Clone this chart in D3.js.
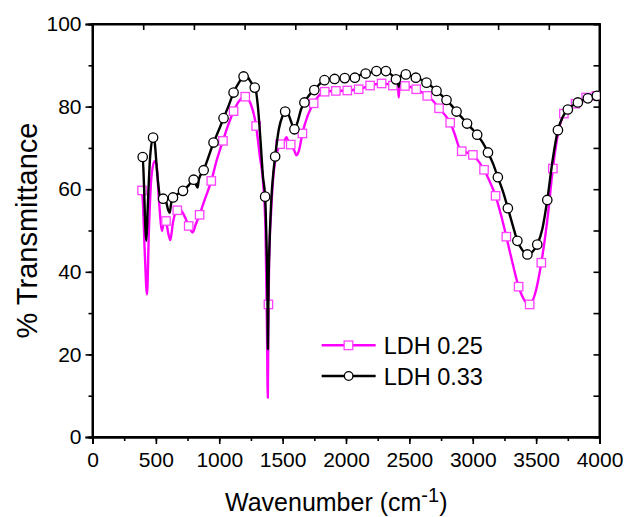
<!DOCTYPE html>
<html>
<head>
<meta charset="utf-8">
<script src="https://cdn.jsdelivr.net/npm/d3@7"></script>
<style>
  body { margin: 0; background: #fff; }
  text { font-family: "Liberation Sans", Arial, sans-serif; fill: #000; }
</style>
</head>
<body>
<svg id="drawing_region"></svg>
<script>
// LDH 0.25 (magenta) - spectrum trace [wavenumber, %T]
const ldh025_wn = [385,395,412,430,445,465,490,505,525,549,565,580,600,614,635,669,700,719,740,759,790,815,845,880,937,980,1029,1070,1113,1160,1205,1250,1291,1320,1345,1365,1377,1383,1387,1393,1410,1428,1445,1467,1480,1510,1530,1548,1564,1590,1611,1630,1656,1700,1745,1790,1832,1920,2010,2100,2190,2281,2340,2370,2400,2410,2416,2422,2465,2554,2641,2690,2734,2780,2822,2858,2890,2913,2960,3001,3045,3089,3135,3180,3225,3265,3315,3362,3410,3449,3490,3541,3590,3632,3670,3719,3760,3811,3895,3975,4000];
const ldh025_t  = [59.5,58,45,34.5,50,63,66.8,66,57,49.9,53,52.3,49,47.7,52,54.9,54.8,53.9,52.5,51.1,49.5,51.5,53.8,57,62,67,71.7,75.5,78.9,81.5,82.4,80.5,75.3,68,62,50,25,9.5,25,42,55,63.5,67.5,70,70.9,71.5,72.6,71.3,70.8,69.5,68.2,69.5,73.5,78,80.8,82.8,83.6,83.8,83.9,84.2,85.1,85.6,85.4,85.1,84.8,84.6,82.2,84.8,85,84.2,82.6,81.3,79.6,78,76.1,73.3,70.3,69.2,68.8,68.3,66.8,64.7,61.8,58.4,53.5,48.5,42,36.4,33,32.1,34.5,42.2,53,65,73,78.3,79.8,80.7,82.2,82.6,82.7];
// LDH 0.25 square markers
const ldh025_mk_wn = [391,580,669,759,845,937,1029,1113,1205,1291,1388,1480,1564,1656,1745,1832,1920,2010,2100,2190,2281,2370,2465,2554,2641,2734,2822,2913,3001,3089,3180,3265,3362,3449,3541,3632,3719,3811,3895,3975];
const ldh025_mk_t  = [59.7,52.3,54.9,51.1,53.8,62,71.7,78.9,82.4,75.3,32.1,70.9,70.8,73.5,80.8,83.6,83.8,83.9,84.2,85.1,85.6,85.1,85,84.2,82.6,79.6,76.1,69.2,68.3,64.7,58.4,48.5,36.4,32.1,42.2,65,78.3,80.7,82.2,82.6];

// LDH 0.33 (black) - spectrum trace
const ldh033_wn = [385,396,405,418,425,435,455,478,490,510,535,557,580,597,609,620,635,670,714,760,798,815,829,840,877,915,955,995,1034,1075,1113,1155,1192,1215,1240,1265,1283,1305,1325,1345,1362,1372,1380,1384,1388,1395,1410,1428,1441,1470,1500,1520,1540,1565,1593,1620,1645,1672,1710,1748,1790,1827,1860,1906,1990,2070,2110,2155,2200,2240,2280,2315,2355,2394,2410,2417,2424,2440,2472,2510,2551,2595,2635,2675,2714,2755,2793,2832,2872,2913,2955,2995,3035,3080,3120,3160,3198,3240,3277,3315,3352,3390,3431,3470,3509,3550,3588,3630,3672,3710,3750,3790,3829,3870,3908,3945,3979,4000];
const ldh033_t  = [67,67.8,62,50,47.5,55,68,72.5,71.5,64,58,57.7,57,55,54.3,56.5,58,58.8,59.6,61,62.3,61.2,60.4,62.5,64.6,67.8,71.3,74.2,77.2,80.3,83.4,85.8,87.3,87.5,86.4,85.2,84.6,80,72,63,58.2,48,35,21.3,35,45,57,64.4,67.9,74.5,77.8,78.8,78.5,76.5,74.5,76.5,79.3,81,82.8,84,85.4,86.4,86.7,86.8,86.9,87,87.6,88,88.3,88.6,88.7,88.6,87.8,86.6,86,84.8,87,87.6,87.8,87.5,87,86.5,85.8,84.9,83.8,82.7,81.6,80.3,78.8,77.4,75.9,74.6,73.2,71.2,68.9,66.2,62.9,59.3,55.4,51.3,47.5,45.3,44.2,44.8,46.6,50.5,57.4,67,74.3,77.5,79.3,80.3,81,81.6,82,82.4,82.6,82.8];
// LDH 0.33 circle markers
const ldh033_mk_wn = [396,478,557,635,714,798,877,955,1034,1113,1192,1280,1362,1441,1520,1593,1672,1750,1830,1910,1990,2070,2155,2240,2315,2394,2472,2551,2635,2714,2793,2872,2955,3035,3120,3198,3277,3352,3431,3509,3588,3672,3750,3829,3908,3979];
const ldh033_mk_t  = [67.8,72.5,57.7,58,59.6,62.3,64.6,71.3,77.2,83.4,87.3,84.6,58.2,67.9,78.8,74.5,81,84,86.4,86.7,86.9,87,88,88.6,88.6,86.6,87.8,87,85.8,83.8,81.6,78.8,75.9,73.2,68.9,62.9,55.4,47.5,44.2,46.6,57.4,74.3,79.3,81,82,82.6];

const series_names = ["LDH 0.25", "LDH 0.33"];
const x_ticks = [0,500,1000,1500,2000,2500,3000,3500,4000];
const y_ticks = [0,20,40,60,80,100];

class SpectrumChart {
    constructor( config, series ){
        this.config = {
            parent: config.parent,
            width: config.width || 625,
            height: config.height || 517,
            margin: config.margin || {top:24, right:25, bottom:80, left:92}
        };
        this.series = series;
        this.init();
    }

    init(){
        let self = this;

        self.svg = d3.select( self.config.parent )
                     .attr('width', self.config.width)
                     .attr('height', self.config.height);

        self.inner_width = self.config.width - self.config.margin.left - self.config.margin.right;
        self.inner_height = self.config.height - self.config.margin.top - self.config.margin.bottom;

        self.chart = self.svg.append('g')
                         .attr('transform', `translate(${self.config.margin.left}, ${self.config.margin.top})`);

        self.xscale = d3.scaleLinear()
                        .domain([0, 4000])
                        .range([0, self.inner_width]);

        self.yscale = d3.scaleLinear()
                        .domain([0, 100])
                        .range([self.inner_height, 0]);

        self.line = d3.line()
                      .x( d => self.xscale(d[0]) )
                      .y( d => self.yscale(d[1]) )
                      .curve(d3.curveMonotoneX);
    }

    render(){
        let self = this;
        const W = self.inner_width, H = self.inner_height;

        self.svg.append('clipPath').attr('id', 'plot_clip')
            .append('rect').attr('width', W).attr('height', H);

        // bottom axis: labelled every 500, minor every 250, outward
        self.chart.append('g')
            .attr('transform', `translate(0, ${H})`)
            .call( d3.axisBottom(self.xscale).tickValues(d3.range(0, 4001, 250)).tickSize(4).tickFormat('') );
        self.chart.append('g')
            .attr('transform', `translate(0, ${H})`)
            .call( d3.axisBottom(self.xscale).tickValues(x_ticks).tickSize(7).tickPadding(8).tickFormat(d3.format('d')) );

        // left axis: labelled every 20, minor every 10
        self.chart.append('g')
            .call( d3.axisLeft(self.yscale).tickValues(d3.range(0, 101, 10)).tickSize(4).tickFormat('') );
        self.chart.append('g')
            .call( d3.axisLeft(self.yscale).tickValues(y_ticks).tickSize(7).tickPadding(4) );

        // top and right mirror axes, ticks inward
        self.chart.append('g')
            .call( d3.axisBottom(self.xscale).tickValues(d3.range(400, 4000, 400)).tickSize(6).tickFormat('') );
        self.chart.append('g')
            .attr('transform', `translate(${W}, 0)`)
            .call( d3.axisLeft(self.yscale).tickValues(d3.range(10, 100, 10)).tickSize(6).tickFormat('') );

        self.chart.selectAll('.domain').attr('stroke', '#000').attr('stroke-width', 2);
        self.chart.selectAll('.tick line').attr('stroke', '#000').attr('stroke-width', 1.6);
        self.chart.selectAll('.tick text').style('font-size', '21px').attr('fill', '#000');

        // frame
        self.chart.append('rect')
            .attr('width', W).attr('height', H)
            .attr('fill', 'none').attr('stroke', '#000').attr('stroke-width', 2);

        const plot = self.chart.append('g').attr('clip-path', 'url(#plot_clip)');

        self.series.forEach( s => {
            plot.append('path')
                .datum( s.trace )
                .attr('d', self.line)
                .attr('fill', 'none')
                .attr('stroke', s.color)
                .attr('stroke-width', 2.4)
                .attr('stroke-linejoin', 'round');

            if( s.shape === 'square' ){
                plot.selectAll(null)
                    .data( s.markers )
                    .enter()
                    .append('rect')
                    .attr('x', d => self.xscale(d[0]) - 4.2)
                    .attr('y', d => self.yscale(d[1]) - 4.2)
                    .attr('width', 8.4).attr('height', 8.4)
                    .attr('fill', '#fff')
                    .attr('stroke', s.marker_color)
                    .attr('stroke-width', 1.3);
            } else {
                plot.selectAll(null)
                    .data( s.markers )
                    .enter()
                    .append('circle')
                    .attr('cx', d => self.xscale(d[0]))
                    .attr('cy', d => self.yscale(d[1]))
                    .attr('r', 4.7)
                    .attr('fill', '#fff')
                    .attr('stroke', s.marker_color)
                    .attr('stroke-width', 1.3);
            }
        });

        // legend
        const legend = self.chart.append('g')
            .attr('transform', `translate(${self.xscale(1808)}, ${self.yscale(22.2)})`);
        self.series.forEach( (s, i) => {
            const row = legend.append('g').attr('transform', `translate(0, ${i * 30.7})`);
            row.append('line').attr('x1', 0).attr('x2', 54).attr('y1', 0).attr('y2', 0)
               .attr('stroke', s.color).attr('stroke-width', 2.4);
            if( s.shape === 'square' ){
                row.append('rect').attr('x', 22.5).attr('y', -4.3).attr('width', 8.6).attr('height', 8.6)
                   .attr('fill', '#fff').attr('stroke', s.marker_color).attr('stroke-width', 1.3);
            } else {
                row.append('circle').attr('cx', 27).attr('cy', 0).attr('r', 4.3)
                   .attr('fill', '#fff').attr('stroke', s.marker_color).attr('stroke-width', 1.3);
            }
            row.append('text').attr('x', 62).attr('y', 9)
               .style('font-size', '23.5px').text(s.name);
        });

        // axis titles
        const xt = self.svg.append('text')
            .attr('x', 225)
            .attr('y', 511)
            .attr('text-anchor', 'start')
            .style('font-size', '25px');
        xt.append('tspan').text('Wavenumber (cm');
        xt.append('tspan').attr('dy', -9).style('font-size', '20px').text('-1');
        xt.append('tspan').attr('dy', 9).text(')');

        self.svg.append('text')
            .attr('transform', `translate(37, ${self.config.margin.top + H / 2}) rotate(-90)`)
            .attr('text-anchor', 'middle')
            .style('font-size', '29px')
            .text('% Transmittance');
    }
}

const zipPts = (a, b) => a.map( (v, i) => [v, b[i]] );

const series = [
    { name: series_names[0], color: '#ff00ff', marker_color: '#ff40ff', shape: 'square',
      trace: zipPts(ldh025_wn, ldh025_t), markers: zipPts(ldh025_mk_wn, ldh025_mk_t) },
    { name: series_names[1], color: '#000000', marker_color: '#000000', shape: 'circle',
      trace: zipPts(ldh033_wn, ldh033_t), markers: zipPts(ldh033_mk_wn, ldh033_mk_t) }
];

const chart = new SpectrumChart( { parent: '#drawing_region', width: 625, height: 517,
                                   margin: {top:24, right:25.5, bottom:80, left:92.5} }, series );
chart.render();
</script>
</body>
</html>
